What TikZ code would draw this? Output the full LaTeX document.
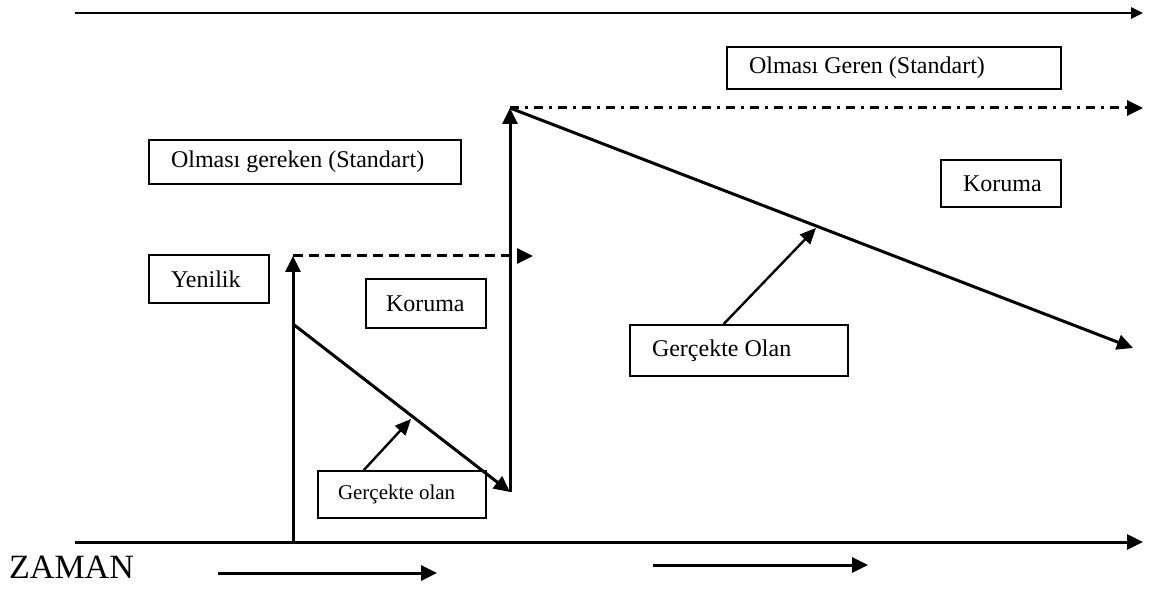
\documentclass[tikz,border=0pt]{standalone}
\usepackage{fontspec}
\setmainfont{Liberation Serif}
\usetikzlibrary{arrows.meta,calc}
\newcommand{\lefttext}[2]{\makebox[#1][l]{#2}}
\begin{document}
\begin{tikzpicture}[x=1pt,y=-1pt,
  box/.style={draw,line width=1.8pt,inner xsep=22pt,inner ysep=0pt,
    font=\fontsize{24}{28}\selectfont},
  smallbox/.style={box,inner xsep=20pt,font=\fontsize{21}{25}\selectfont},
  mainarrow/.style={line width=3pt,-{Triangle[length=16pt,width=15pt]}},
  toparrow/.style={line width=2.6pt,-{Triangle[length=12pt,width=11pt]}},
  pointer/.style={line width=2.4pt,-{Triangle[length=16pt,width=14pt]}},
  dashedarrow/.style={mainarrow,dash pattern=on 10pt off 6pt},
  dashdotarrow/.style={mainarrow,dash pattern=on 9pt off 6pt on 3pt off 6pt},
  lbl/.style={font=\fontsize{34}{38}\selectfont,inner sep=0pt}
]
\useasboundingbox (0,0) rectangle (1157,601);

% boxes
\node[box,minimum height=42pt] (geren) at (894,68) {\lefttext{290pt}{Olması Geren (Standart)}};
\node[box,minimum height=44pt] (gereken) at (305,162) {\lefttext{268pt}{Olması gereken (Standart)}};
\node[box,minimum height=47pt] (korumaR) at (1001,183.5) {\lefttext{76pt}{Koruma}};
\node[box,minimum height=51pt] (gercekO) at (739,350.5) {\lefttext{174pt}{Gerçekte Olan}};
\node[box,minimum height=48pt] (yenilik) at (209,279) {\lefttext{76pt}{Yenilik}};
\node[box,inner xsep=20pt,minimum height=49pt] (korumaL) at (426,303.5) {\lefttext{80pt}{Koruma}};
\node[smallbox,minimum height=47pt] (gercekS) at (402,494.5) {\lefttext{128pt}{Gerçekte olan}};
\node[lbl,anchor=west] (zaman) at (9,567) {ZAMAN};

% coordinates
\coordinate (t0) at (75,13);
\coordinate (t1) at (1143,13);
\coordinate (a0) at (75,542);
\coordinate (a1) at (1143,542);
\coordinate (v1b) at (293,542);
\coordinate (v1t) at (293,256);
\coordinate (d1s) at (293,324);
\coordinate (v2b) at (510,492);
\coordinate (v2t) at (510,108);
\coordinate (dashend) at (533,256);
\coordinate (ddend) at (1143,108);
\coordinate (d2e) at (1133,348);
\coordinate (p1s) at ($(gercekS.north west)!0.275!(gercekS.north east)$);
\coordinate (p1e) at (411,419);
\coordinate (p2s) at ($(gercekO.north west)!0.43!(gercekO.north east)$);
\coordinate (p2e) at (816,228);
\coordinate (b1s) at (218,573);
\coordinate (b1e) at (437,573);
\coordinate (b2s) at (653,565);
\coordinate (b2e) at (868,565);

% connectors
\draw[toparrow] (t0) -- (t1);
\draw[mainarrow] (a0) -- (a1);
\draw[mainarrow] (v1b) -- (v1t);
\draw[dashedarrow] (v1t) -- (dashend);
\draw[mainarrow] (d1s) -- (v2b);
\draw[mainarrow] (v2b) -- (v2t);
\draw[dashdotarrow] (v2t) -- (ddend);
\draw[mainarrow] (v2t) -- (d2e);
\draw[pointer] (p1s) -- (p1e);
\draw[pointer] (p2s) -- (p2e);
\draw[mainarrow] (b1s) -- (b1e);
\draw[mainarrow] (b2s) -- (b2e);
\end{tikzpicture}
\end{document}
